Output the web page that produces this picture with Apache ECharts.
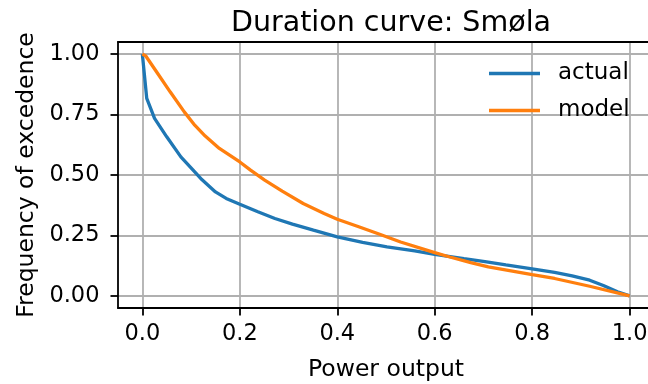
<!DOCTYPE html>
<html>
<head>
<meta charset="utf-8">
<script src="https://cdn.jsdelivr.net/npm/echarts@6/dist/echarts.min.js"></script>
<style>html,body{margin:0;padding:0;background:#fff}#c{width:648px;height:384px}</style>
</head>
<body>
<div id="c"></div>
<script>
const xTicks = [0, 0.2, 0.4, 0.6, 0.8, 1.0];
const yTicks = [0, 0.25, 0.5, 0.75, 1.0];

const actualX = [0, 0.009, 0.025, 0.05, 0.079, 0.1075, 0.122, 0.15, 0.172, 0.2, 0.237, 0.272, 0.308, 0.351, 0.4, 0.452, 0.502, 0.559, 0.6, 0.66, 0.703, 0.746, 0.8, 0.846, 0.882, 0.918, 0.946, 0.975, 1.0];
const actualY = [1.0, 0.817, 0.734, 0.658, 0.575, 0.513, 0.481, 0.430, 0.403, 0.379, 0.348, 0.320, 0.297, 0.272, 0.244, 0.221, 0.203, 0.186, 0.172, 0.154, 0.142, 0.128, 0.112, 0.097, 0.083, 0.065, 0.043, 0.017, 0.0];

const modelX = [0, 0.007, 0.029, 0.057, 0.086, 0.1075, 0.129, 0.158, 0.2, 0.222, 0.251, 0.287, 0.33, 0.373, 0.4, 0.444, 0.487, 0.53, 0.6, 0.631, 0.674, 0.71, 0.8, 0.846, 0.918, 1.0];
const modelY = [1.0, 0.992, 0.927, 0.844, 0.761, 0.706, 0.661, 0.610, 0.554, 0.520, 0.479, 0.433, 0.382, 0.341, 0.317, 0.286, 0.255, 0.223, 0.179, 0.161, 0.138, 0.120, 0.088, 0.072, 0.040, 0.0];

const zip = (xs, ys) => xs.map((x, i) => [x, ys[i]]);
const FONT = 'DejaVu Sans';
const spine = {show: true, onZero: false, lineStyle: {color: '#000', width: 1.8}};

const chart = echarts.init(document.getElementById('c'), null, {renderer: 'canvas'});
chart.setOption({
  animation: false,
  backgroundColor: '#fff',
  textStyle: {fontFamily: FONT},
  title: {
    text: 'Duration curve: Smøla',
    left: 386, top: 4, textAlign: 'center',
    textStyle: {fontFamily: FONT, fontSize: 28.5, fontWeight: 'normal', color: '#000'}
  },
  legend: {
    left: 484, top: 57, orient: 'vertical', itemGap: 14,
    itemWidth: 51, itemHeight: 3.3, icon: 'rect',
    textStyle: {fontFamily: FONT, fontSize: 23, color: '#000', padding: [0, 0, 0, 13]},
    data: ['actual', 'model']
  },
  grid: {left: 118, top: 42, width: 536, height: 266, containLabel: false, outerBoundsMode: 'none'},
  xAxis: [{
    type: 'value', min: -0.05, max: 1.05,
    name: 'Power output', nameLocation: 'middle', nameGap: 50,
    nameTextStyle: {fontFamily: FONT, fontSize: 23.5, color: '#000'},
    axisLine: spine,
    axisTick: {show: true, length: 7.5, customValues: xTicks, lineStyle: {color: '#000', width: 1.8}},
    axisLabel: {customValues: xTicks, margin: 15, fontFamily: FONT, fontSize: 22.5, color: '#000',
      formatter: v => v.toFixed(1)},
    splitLine: {show: true, lineStyle: {color: '#b0b0b0', width: 1.8}}
  }, {
    type: 'value', min: -0.05, max: 1.05, position: 'top',
    axisLine: spine, axisTick: {show: false}, axisLabel: {show: false}, splitLine: {show: false}
  }],
  yAxis: {
    type: 'value', min: -0.05, max: 1.05,
    name: 'Frequency of excedence', nameLocation: 'middle', nameGap: 79, nameRotate: 90,
    nameTextStyle: {fontFamily: FONT, fontSize: 23.5, color: '#000'},
    axisLine: spine,
    axisTick: {show: true, length: 7.5, customValues: yTicks, lineStyle: {color: '#000', width: 1.8}},
    axisLabel: {customValues: yTicks, margin: 18.5, fontFamily: FONT, fontSize: 22.5, color: '#000',
      formatter: v => v.toFixed(2)},
    splitLine: {show: true, lineStyle: {color: '#b0b0b0', width: 1.8}}
  },
  series: [
    {name: 'actual', type: 'line', data: zip(actualX, actualY), showSymbol: false, symbol: 'none',
      lineStyle: {color: '#1f77b4', width: 3.3}, itemStyle: {color: '#1f77b4'}, z: 3},
    {name: 'model', type: 'line', data: zip(modelX, modelY), showSymbol: false, symbol: 'none',
      lineStyle: {color: '#ff7f0e', width: 3.3}, itemStyle: {color: '#ff7f0e'}, z: 4}
  ]
});
</script>
</body>
</html>
